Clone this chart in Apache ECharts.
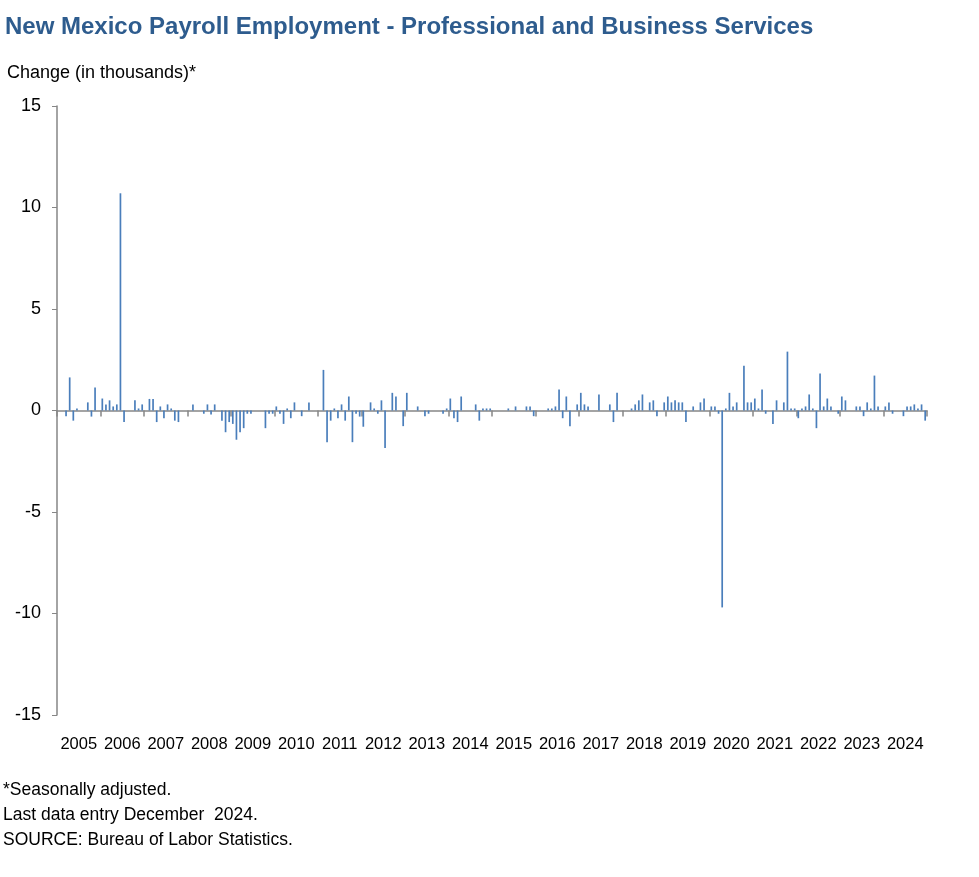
<!DOCTYPE html>
<html>
<head>
<meta charset="utf-8">
<script src="https://cdn.jsdelivr.net/npm/echarts@6/dist/echarts.min.js"></script>
<style>
html,body{margin:0;padding:0;background:#fff;}
#chart{width:979px;height:877px;}
</style>
</head>
<body>
<div id="chart"></div>
<script>
const years = ['2005','2006','2007','2008','2009','2010','2011','2012','2013','2014','2015','2016','2017','2018','2019','2020','2021','2022','2023','2024'];
const monthNames = ['Jan','Feb','Mar','Apr','May','Jun','Jul','Aug','Sep','Oct','Nov','Dec'];
const yTicks = [-15, -10, -5, 0, 5, 10, 15];
// Monthly change (thousands), Jan 2005 .. Dec 2024, one row per year
const changes = [
  0, 0, -0.28, 1.63, -0.5, 0.1, 0, 0, 0.4, -0.3, 1.13, 0,
  0.59, 0.3, 0.5, 0.2, 0.3, 10.7, -0.57, 0, 0, 0.5, 0.1, 0.3,
  0, 0.57, 0.57, -0.57, 0.2, -0.38, 0.3, 0.1, -0.5, -0.57, 0, 0,
  0, 0.3, 0, 0, -0.16, 0.3, -0.2, 0.3, 0, -0.5, -1.07, -0.57,
  -0.66, -1.44, -1.07, -0.87, -0.16, -0.16, 0, 0, 0, -0.87, -0.16, -0.16,
  0.2, -0.16, -0.66, 0.1, -0.38, 0.4, 0, -0.28, 0, 0.4, 0, 0,
  0, 2.0, -1.56, -0.5, 0.1, -0.38, 0.3, -0.5, 0.69, -1.56, -0.16, -0.3,
  -0.8, 0, 0.4, 0.1, -0.16, 0.5, -1.85, 0, 0.87, 0.69, 0, -0.77,
  0.87, 0, 0, 0.2, 0, -0.28, -0.16, 0, 0, 0, -0.16, 0.1,
  0.59, -0.38, -0.57, 0.69, 0, 0, 0, 0.3, -0.5, 0.1, 0.1, 0.1,
  0, 0, 0, 0, 0.1, 0, 0.2, 0, 0, 0.2, 0.2, -0.28,
  0, 0, 0, 0.1, 0.1, 0.2, 1.03, -0.38, 0.69, -0.77, 0, 0.3,
  0.87, 0.3, 0.2, 0, 0, 0.79, 0, 0, 0.3, -0.57, 0.87, 0,
  0, 0, 0.1, 0.3, 0.5, 0.79, 0, 0.4, 0.5, -0.28, 0, 0.4,
  0.69, 0.4, 0.5, 0.4, 0.4, -0.57, 0, 0.2, 0, 0.4, 0.59, 0,
  0.2, 0.2, -0.16, -9.7, 0.1, 0.87, 0.2, 0.4, 0, 2.2, 0.4, 0.4,
  0.59, 0.1, 1.03, -0.16, 0, -0.66, 0.5, 0, 0.4, 2.9, 0.1, 0.1,
  -0.38, 0.1, 0.2, 0.79, 0.1, -0.87, 1.82, 0.2, 0.59, 0.2, 0, -0.16,
  0.69, 0.5, 0, 0, 0.2, 0.2, -0.28, 0.4, 0.1, 1.72, 0.2, 0,
  0.2, 0.4, -0.16, 0, 0, -0.28, 0.2, 0.2, 0.3, 0.1, 0.3, -0.5
];
const titleText = 'New Mexico Payroll Employment - Professional and Business Services';
const yAxisTitle = 'Change (in thousands)*';
const footnotes = ['*Seasonally adjusted.', 'Last data entry December  2024.', 'SOURCE: Bureau of Labor Statistics.'];

const months = [];
years.forEach(y => monthNames.forEach(m => months.push(m + ' ' + y)));

const FONT = '"Liberation Sans", Arial, sans-serif';
const axisGray = '#868686';

const chart = echarts.init(document.getElementById('chart'), null, {renderer: 'canvas'});
chart.setOption({
  animation: false,
  backgroundColor: '#ffffff',
  grid: {left: 57, right: 52, top: 106, bottom: 162, containLabel: false},
  title: {
    text: titleText,
    left: 0, top: 10,
    textStyle: {fontFamily: FONT, fontSize: 24, fontWeight: 'bold', color: '#2E5C8E'}
  },
  graphic: [
    {type: 'text', left: 7, top: 64, style: {text: yAxisTitle, font: '18px ' + FONT, fill: '#000'}},
    {type: 'text', left: 3, top: 781, style: {text: footnotes[0], font: '17.5px ' + FONT, fill: '#000'}},
    {type: 'text', left: 3, top: 806, style: {text: footnotes[1], font: '17.5px ' + FONT, fill: '#000'}},
    {type: 'text', left: 3, top: 831, style: {text: footnotes[2], font: '17.5px ' + FONT, fill: '#000'}}
  ],
  xAxis: [
    {
      type: 'category', data: months, boundaryGap: true,
      axisLine: {show: true, onZero: true, lineStyle: {color: axisGray, width: 1.5}},
      axisTick: {show: true, length: 6, interval: (i) => i % 12 === 0, lineStyle: {color: axisGray, width: 1.5}},
      axisLabel: {show: false}
    },
    {
      type: 'category', data: years, boundaryGap: true, position: 'bottom',
      axisLine: {show: false, onZero: false},
      axisTick: {show: false},
      axisLabel: {show: true, interval: 0, margin: 21, fontFamily: FONT, fontSize: 16.5, color: '#000'}
    }
  ],
  yAxis: {
    type: 'value', min: yTicks[0], max: yTicks[yTicks.length - 1], interval: 5,
    axisLine: {show: true, lineStyle: {color: axisGray, width: 1.5}},
    axisTick: {show: true, length: 5, lineStyle: {color: axisGray}},
    splitLine: {show: false},
    axisLabel: {margin: 16, fontFamily: FONT, fontSize: 18, color: '#000'}
  },
  series: [{
    type: 'bar', xAxisIndex: 0, data: changes, barWidth: 1.7,
    itemStyle: {color: '#4A7EBB'}
  }]
});
</script>
</body>
</html>
